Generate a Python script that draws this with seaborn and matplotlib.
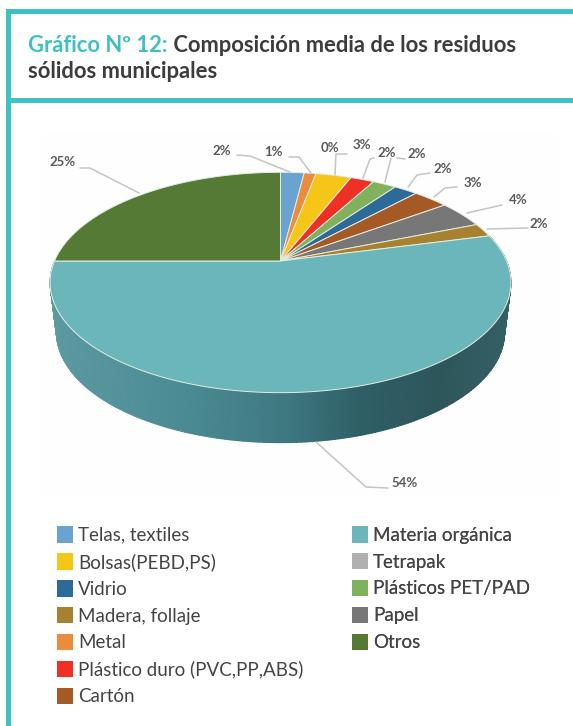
import numpy as np
import matplotlib
matplotlib.use("Agg")
import matplotlib.pyplot as plt
from matplotlib.colors import LinearSegmentedColormap
from matplotlib.patches import Patch, Rectangle
import seaborn as sns

# slices, clockwise from twelve o'clock
slices = ["Telas, textiles", "Metal", "Tetrapak", "Bolsas(PEBD,PS)", "Plástico duro (PVC,PP,ABS)",
          "Plásticos PET/PAD", "Vidrio", "Cartón", "Papel", "Madera, follaje",
          "Materia orgánica", "Otros"]
values = [2, 1, 0, 3, 2, 2, 2, 3, 4, 2, 54, 25]
colors = ["#6aa3d0", "#ec8b3c", "#b0b0b0", "#f5c518", "#ee3124",
          "#80b15c", "#2c6a9a", "#a55a26", "#777777", "#a68230",
          "#6ab6bb", "#557a36"]

legend_left = ["Telas, textiles", "Bolsas(PEBD,PS)", "Vidrio", "Madera, follaje", "Metal",
               "Plástico duro (PVC,PP,ABS)", "Cartón"]
legend_right = ["Materia orgánica", "Tetrapak", "Plásticos PET/PAD", "Papel", "Otros"]

title_a = "Gráfico Nº 12:"
title_b = " Composición media de los residuos"
title_c = "sólidos municipales"

# percent labels: text, label centre, leader line (all in pixels)
labels = [
    ("2%", (222, 151), [(237, 155), (250, 156), (290, 172)]),
    ("1%", (273, 152), [(289, 157), (299, 157), (311, 173)]),
    ("0%", (330, 148), [(347, 154), (336, 154), (335, 175)]),
    ("3%", (362, 145), [(374, 158), (370, 159), (363, 178)]),
    ("2%", (387, 153), [(391, 158), (385, 182)]),
    ("2%", (417, 154), [(405, 159), (397, 158)]),
    ("2%", (443, 169), [(430, 173), (417, 175), (408, 187)]),
    ("3%", (473, 183), [(457, 187), (445, 188), (434, 197)]),
    ("4%", (518, 200), [(502, 205), (467, 213)]),
    ("2%", (539, 224), [(528, 228), (487, 229)]),
    ("54%", (405, 483), [(388, 488), (366, 487), (316, 442)]),
    ("25%", (63, 162), [(80, 168), (90, 168), (139, 193)]),
]

TEAL = "#3fc1c4"
DARK = "#3c3c3c"

# pie is a circle seen in perspective
CX, CY = 280.5, 261
RX, RY, P = 226, 106, 0.195
DEPTH, SHRINK = 50, 0.972


def project(theta, drop=0.0, scale=1.0):
    u, v = np.sin(theta), np.cos(theta)
    w = 1 + P * v
    return CX + scale * RX * u / w, CY - RY * v / w + drop


sns.set_theme(style="white")
plt.rcParams["font.family"] = ["Lato", "DejaVu Sans"]

fig = plt.figure(figsize=(5.73, 7.26), dpi=100)
ax = fig.add_axes([0, 0, 1, 1])
ax.set_xlim(0, 573)
ax.set_ylim(726, 0)
ax.axis("off")

# frame
ax.add_patch(Rectangle((6, 9), 567, 5, color=TEAL, lw=0))
ax.add_patch(Rectangle((6, 98), 567, 5, color=TEAL, lw=0))
ax.add_patch(Rectangle((6, 9), 5, 717, color=TEAL, lw=0))
ax.add_patch(Rectangle((42, 133), 516, 362, color="#fefefe", lw=0))

# title
t = ax.text(28.5, 52, title_a, color=TEAL, fontsize=15.85, fontweight="bold", va="baseline")
fig.canvas.draw()
x_end = ax.transData.inverted().transform(t.get_window_extent().get_points())[1, 0]
ax.text(x_end, 52, title_b, color=DARK, fontsize=15.85, fontweight="bold", va="baseline")
ax.text(28.5, 78, title_c, color=DARK, fontsize=15.85, fontweight="bold", va="baseline")

# angles of the slice edges
edges = np.deg2rad(np.cumsum([0] + values) * 3.6)

# side wall of the big slice
i_big = int(np.argmax(values))
th = np.linspace(edges[i_big], edges[i_big + 1], 240)
x_top, y_top = project(th)
x_bot, y_bot = project(th, DEPTH, SHRINK)
wall_x = np.vstack([x_top, x_bot])
wall_y = np.vstack([y_top, y_bot])
wall_cmap = LinearSegmentedColormap.from_list(
    "wall", [(0, "#5c9aa2"), (0.3, "#4a8a93"), (0.5, "#3f7a83"), (0.68, "#2f5f66"), (0.85, "#2d565b"), (1, "#345f64")])
ax.pcolormesh(wall_x, wall_y, wall_x, cmap=wall_cmap, shading="gouraud", vmin=55, vmax=505, zorder=2)

# top of the pie
for i in range(len(values)):
    if values[i] == 0:
        continue
    th = np.linspace(edges[i], edges[i + 1], 200)
    x, y = project(th)
    ax.fill(np.r_[CX, x], np.r_[CY, y], facecolor=colors[i], edgecolor="#e6ecdf", lw=0.7, zorder=3)

# leader lines and percent labels
for text, pos, line in labels:
    xs = [p[0] for p in line]
    ys = [p[1] for p in line]
    ax.plot(xs, ys, color="#c4c4c4", lw=1.1, zorder=4)
    ax.text(pos[0], pos[1], text, color="#5a5a5a", fontsize=9.5, fontweight="bold",
            ha="center", va="center", zorder=5)


# legend, two columns filled by hand
def add_legend(names, x, y):
    handles = [Patch(facecolor=colors[slices.index(n)], edgecolor="none") for n in names]
    leg = ax.legend(handles, names, loc="upper left", bbox_to_anchor=(x, y), bbox_transform=ax.transData,
                    frameon=False, fontsize=13.5, labelcolor="#444444", borderpad=0, borderaxespad=0,
                    handlelength=0.85, handleheight=0.98, handletextpad=0.27, labelspacing=0.49)
    ax.add_artist(leg)


add_legend(legend_left, 57, 526)
add_legend(legend_right, 352, 526)

fig.savefig("out.png", dpi=100)
